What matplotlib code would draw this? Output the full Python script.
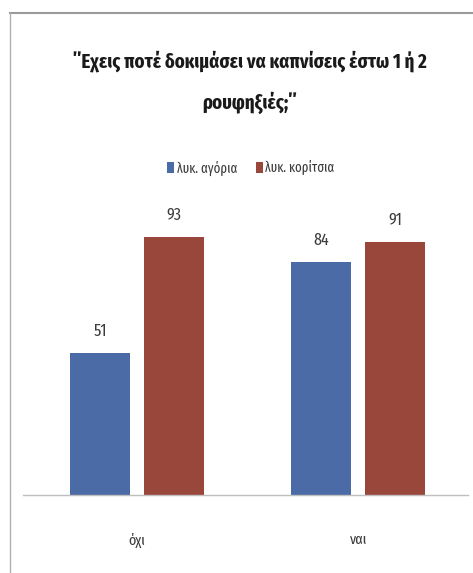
import matplotlib
matplotlib.use("Agg")
import matplotlib.pyplot as plt
from matplotlib.lines import Line2D
from matplotlib.patches import Patch
import numpy as np

categories = ["όχι", "ναι"]
series_names = ["λυκ. αγόρια", "λυκ. κορίτσια"]
boys = [51, 84]
girls = [93, 91]
title_text = "΄΄Εχεις ποτέ δοκιμάσει να καπνίσεις έστω 1 ή 2\nρουφηξιές;΄΄"

blue = "#4A6BA6"
red = "#9A473B"
fonts = ["Fira Sans Extra Condensed", "Carlito", "DejaVu Sans"]
plt.rcParams["font.family"] = fonts

W, H = 473, 573
fig = plt.figure(figsize=(W / 100, H / 100), dpi=100)
fig.patch.set_facecolor("white")

# plot area: baseline at y=495 px, 0..100 spans 277.5 px
ax_left, ax_right = 23 / W, 468 / W
ax_bottom = 1 - 495 / H
ax_height = 277.5 / H
ax = fig.add_axes([ax_left, ax_bottom, ax_right - ax_left, ax_height])

x = np.arange(len(categories))
width = 0.27
offset = 0.168
b1 = ax.bar(x - offset, boys, width, color=blue)
b2 = ax.bar(x + offset, girls, width, color=red)

for bars, vals in ((b1, boys), (b2, girls)):
    for rect, v in zip(bars, vals):
        ax.annotate(str(v), (rect.get_x() + rect.get_width() / 2, v),
                    xytext=(0, 10), textcoords="offset points",
                    ha="center", va="bottom", fontsize=12.5,
                    color="#3c3c3c")

ax.set_xlim(-0.516, 1.498)
ax.set_ylim(0, 100)
for s in ("top", "right", "left"):
    ax.spines[s].set_visible(False)
ax.spines["bottom"].set_color("#BFBFBF")
ax.spines["bottom"].set_linewidth(1.0)
ax.set_yticks([])
ax.set_xticks(x)
ax.set_xticklabels(categories, fontsize=11, color="#3c3c3c")
ax.tick_params(axis="x", length=0, pad=27)

fig.text(250 / W, 1 - 82 / H, title_text, ha="center", va="center",
         fontsize=14.7, fontweight="bold", color="#1a1a1a", linespacing=2.15)

handles = [Patch(facecolor=blue), Patch(facecolor=red)]
fig.legend(handles, series_names, loc="center", bbox_to_anchor=(251 / W, 1 - 168 / H),
           ncol=2, frameon=False, handlelength=0.5, handleheight=0.8,
           handletextpad=0.2, columnspacing=1.3,
           prop={"size": 10}, labelcolor="#3c3c3c")

# outer frame lines (top and left)
fig.add_artist(Line2D([10 / W, 1.0], [1 - 13 / H, 1 - 13 / H], color="#9a9a9a", lw=1.5,
                      transform=fig.transFigure))
fig.add_artist(Line2D([10 / W, 10 / W], [1 - 13 / H, 0.0], color="#b0b0b0", lw=1.0,
                      transform=fig.transFigure))

fig.savefig("out.png", dpi=100, facecolor="white")
